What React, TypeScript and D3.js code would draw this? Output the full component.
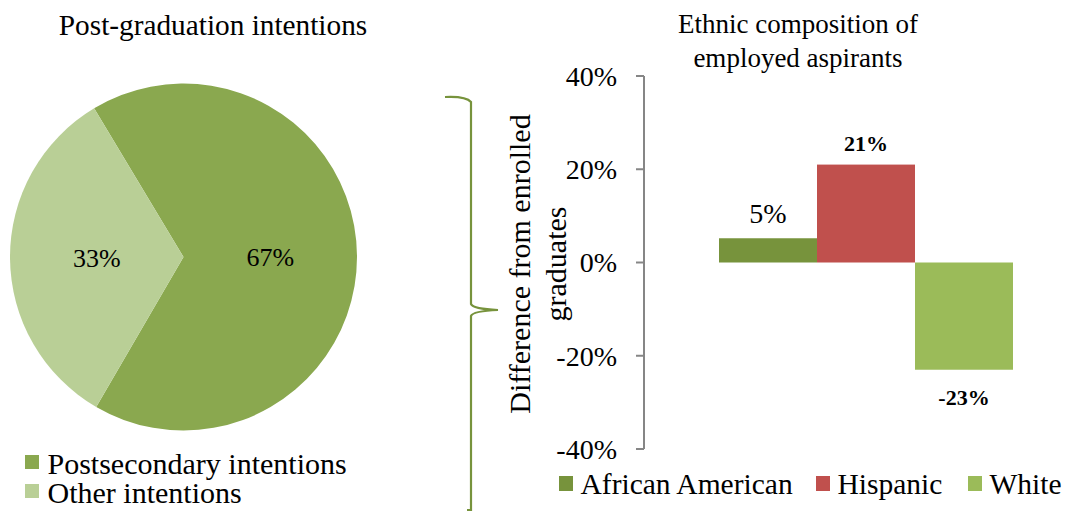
import React from "react";
import * as d3 from "d3";

const pieCategories = ["Postsecondary intentions", "Other intentions"];
const pieValues = [67, 33];
const pieColors = ["#8AA84F", "#B9CF96"];

const barSeries = ["African American", "Hispanic", "White"];
const barValues = [0.052, 0.21, -0.23];
const barLabels = ["5%", "21%", "-23%"];
const barColors = ["#77933C", "#C0504D", "#9BBB59"];
const yTicks = [-0.4, -0.2, 0, 0.2, 0.4];

const FONT = '"Liberation Serif", "DejaVu Serif", serif';

export default function App() {
  const W = 1072, H = 521;
  // pie
  const cx = 183.5, cy = 257, r = 173.5;
  const pie = d3.pie<number>().sort(null).startAngle((-31 * Math.PI) / 180).endAngle((329 * Math.PI) / 180);
  const arcs = pie(pieValues);
  const arc = d3.arc<d3.PieArcDatum<number>>().innerRadius(0).outerRadius(r);

  // bars
  const y = d3.scaleLinear().domain([-0.4, 0.4]).range([449, 76]);
  const x = d3.scaleBand<string>().domain(barSeries).range([719, 1013]).padding(0);
  const axisX = 644;
  const fmt = (t: number) => d3.format(".0%")(t).replace("\u2212", "-");

  // brace path
  const bx = 471, top = 97, mid = 310, bot = 510;
  const brace = `M445,${top} Q466,${top - 1} ${bx},${top + 5} L${bx},${mid - 6} Q${bx + 2},${mid - 1} 498,${mid} Q${bx + 2},${mid + 1} ${bx},${mid + 6} L${bx},${bot} L${bx - 4},${bot}`;

  const ts: React.CSSProperties = { fontFamily: FONT };

  return (
    <svg width={W} height={H} style={{ position: "absolute", left: 0, top: 0, background: "#fff", fontFamily: FONT }}>
      <rect width={W} height={H} fill="#fff" />
      {/* Left title */}
      <text style={ts} x={213} y={35} fontSize={29.3} textAnchor="middle" fill="#000">Post-graduation intentions</text>
      {/* Pie */}
      <g transform={`translate(${cx},${cy})`}>
        {arcs.map((a, i) => (
          <path key={i} d={arc(a) || ""} fill={pieColors[i]} />
        ))}
        {arcs.map((a, i) => {
          const [lx, ly] = arc.centroid(a);
          return (
            <text style={ts} key={"l" + i} x={lx} y={ly} dy="0.35em" fontSize={26} textAnchor="middle" fill="#000">
              {pieValues[i]}%
            </text>
          );
        })}
      </g>
      {/* Left legend */}
      {pieCategories.map((c, i) => (
        <g key={c} transform={`translate(25,${455 + i * 29})`}>
          <rect x={0} y={0} width={14} height={14} fill={pieColors[i]} />
          <text style={ts} x={22.5} y={19} fontSize={30} fill="#000">{c}</text>
        </g>
      ))}
      {/* Brace */}
      <path d={brace} fill="none" stroke="#77933C" strokeWidth={2.2} />
      {/* Right title */}
      <text style={ts} x={798} y={33} fontSize={27} textAnchor="middle" fill="#000">Ethnic composition of</text>
      <text style={ts} x={798} y={67} fontSize={27} textAnchor="middle" fill="#000">employed aspirants</text>
      {/* Y axis title */}
      <text style={ts} transform={`translate(530,264) rotate(-90)`} fontSize={30} textAnchor="middle" fill="#000">Difference from enrolled</text>
      <text style={ts} transform={`translate(566,264) rotate(-90)`} fontSize={30} textAnchor="middle" fill="#000">graduates</text>
      {/* Bars */}
      {barSeries.map((s, i) => {
        const v = barValues[i];
        return (
          <rect key={s} x={x(s)} y={y(Math.max(0, v))} width={x.bandwidth()} height={Math.abs(y(v) - y(0))} fill={barColors[i]} />
        );
      })}
      {/* Axis */}
      <line x1={axisX} x2={axisX} y1={y(0.4)} y2={y(-0.4)} stroke="#868686" strokeWidth={2} />
      {yTicks.map((t) => (
        <g key={t}>
          <line x1={axisX - 8} x2={axisX} y1={y(t)} y2={y(t)} stroke="#868686" strokeWidth={2} />
          <text style={ts} x={617} y={y(t)} dy="0.35em" fontSize={28} textAnchor="end" fill="#000">{fmt(t)}</text>
        </g>
      ))}
      {/* Bar labels */}
      <text style={ts} x={(x(barSeries[0]) || 0) + x.bandwidth() / 2} y={y(barValues[0]) - 15} fontSize={28} textAnchor="middle" fill="#000">{barLabels[0]}</text>
      <text style={ts} x={(x(barSeries[1]) || 0) + x.bandwidth() / 2} y={y(barValues[1]) - 14} fontSize={22} fontWeight="bold" textAnchor="middle" fill="#000">{barLabels[1]}</text>
      <text style={ts} x={(x(barSeries[2]) || 0) + x.bandwidth() / 2} y={y(barValues[2]) + 35} fontSize={22} fontWeight="bold" textAnchor="middle" fill="#000">{barLabels[2]}</text>
      {/* Right legend */}
      {barSeries.map((s, i) => {
        const lx = [559, 816, 968][i];
        return (
          <g key={"lg" + s} transform={`translate(${lx},476)`}>
            <rect x={0} y={0} width={14} height={15} fill={barColors[i]} />
            <text style={ts} x={21.5} y={18} fontSize={29.5} fill="#000">{s}</text>
          </g>
        );
      })}
    </svg>
  );
}
